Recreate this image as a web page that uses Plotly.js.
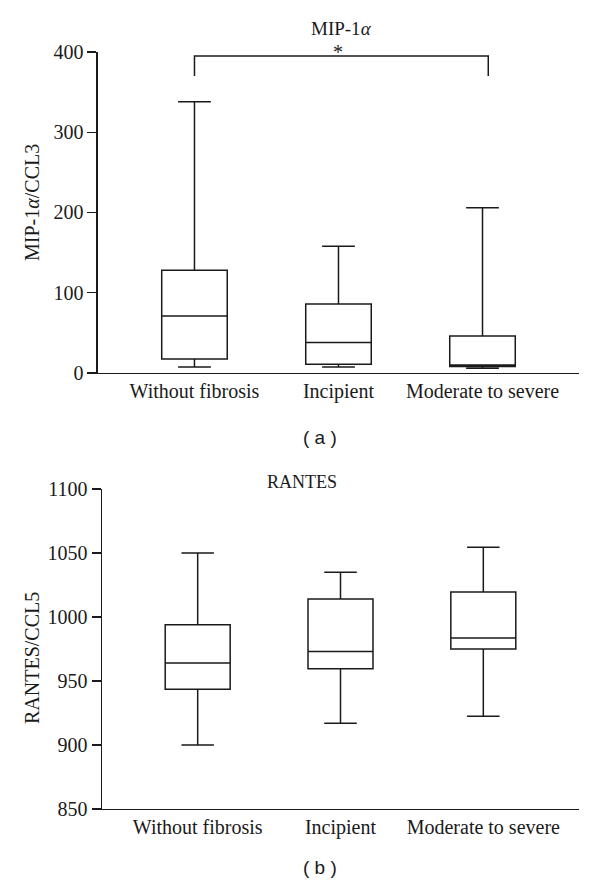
<!DOCTYPE html>
<html>
<head>
<meta charset="utf-8">
<script src="https://cdn.plot.ly/plotly-3.0.1.min.js"></script>
<style>
  body { margin: 0; background: #fff; }
  #chart { width: 600px; height: 888px; }
</style>
</head>
<body>
<div id="chart"></div>
<script>
// Box plots of chemokine levels by fibrosis stage

const groups = ['Without fibrosis', 'Incipient', 'Moderate to severe'];

// (a) MIP-1alpha / CCL3
const mipLower = [7.5, 7.5, 6];
const mipQ1 = [17.5, 11, 8];
const mipMedian = [71, 38, 10];
const mipQ3 = [128, 86, 46];
const mipUpper = [338, 158, 206];
const mipTicks = [0, 100, 200, 300, 400];

// (b) RANTES / CCL5
const ranLower = [900, 917, 922.5];
const ranQ1 = [943.5, 959.5, 975];
const ranMedian = [964, 973, 983.5];
const ranQ3 = [994, 1014, 1019.5];
const ranUpper = [1050, 1035, 1054.5];
const ranTicks = [850, 900, 950, 1000, 1050, 1100];

// significance bracket on panel (a): from group 0 to group 2
const bracketX = [0, 2.04];
const bracketTop = 395;
const bracketFoot = 370;

const ink = '#1a1a1a';
const serif = 'Liberation Serif, Times New Roman, serif';
const sans = 'Liberation Sans, Arial, sans-serif';

function boxTrace(lo, q1, med, q3, hi, xa, ya) {
    return {
        type: 'box',
        x: groups,
        lowerfence: lo,
        q1: q1,
        median: med,
        q3: q3,
        upperfence: hi,
        xaxis: xa,
        yaxis: ya,
        boxpoints: false,
        whiskerwidth: 0.5,
        fillcolor: 'rgba(0,0,0,0)',
        line: { color: ink, width: 1.5 },
        hoverinfo: 'skip'
    };
}

const traces = [
    boxTrace(mipLower, mipQ1, mipMedian, mipQ3, mipUpper, 'x', 'y'),
    boxTrace(ranLower, ranQ1, ranMedian, ranQ3, ranUpper, 'x2', 'y2')
];

const xBase = {
    type: 'category',
    range: [-0.67, 2.67],
    showline: true,
    linecolor: ink,
    linewidth: 1.5,
    ticks: '',
    showgrid: false,
    zeroline: false,
    tickfont: { family: serif, size: 20, color: ink },
    fixedrange: true
};

const yBase = {
    showline: true,
    linecolor: ink,
    linewidth: 1.5,
    ticks: 'outside',
    ticklen: 9,
    tickwidth: 1.5,
    tickcolor: ink,
    showgrid: false,
    zeroline: false,
    tickfont: { family: serif, size: 20, color: ink },
    fixedrange: true
};

// paper-coordinate text placed by pixel centre
function label(text, px, py, size, family, angle) {
    return {
        text: text, xref: 'paper', yref: 'paper',
        x: px / 600, y: 1 - py / 888,
        xanchor: 'center', yanchor: 'middle',
        textangle: angle || 0, showarrow: false,
        font: { family: family, size: size, color: ink }
    };
}

const layout = {
    width: 600,
    height: 888,
    margin: { l: 0, r: 0, t: 0, b: 0 },
    paper_bgcolor: '#fff',
    plot_bgcolor: '#fff',
    showlegend: false,
    boxmode: 'overlay',
    boxgap: 0.35,
    font: { family: serif, color: ink },
    xaxis: Object.assign({}, xBase, { domain: [0.1633, 0.965], anchor: 'y' }),
    yaxis: Object.assign({}, yBase, {
        domain: [0.58, 0.9414], anchor: 'x',
        range: [0, 400], tickvals: mipTicks
    }),
    xaxis2: Object.assign({}, xBase, { domain: [0.17, 0.965], anchor: 'y2' }),
    yaxis2: Object.assign({}, yBase, {
        domain: [0.089, 0.4493], anchor: 'x2',
        range: [850, 1100], tickvals: ranTicks
    }),
    shapes: [
        {
            type: 'path', xref: 'x', yref: 'y',
            path: 'M ' + bracketX[0] + ',' + bracketFoot +
                  ' L ' + bracketX[0] + ',' + bracketTop +
                  ' L ' + bracketX[1] + ',' + bracketTop +
                  ' L ' + bracketX[1] + ',' + bracketFoot,
            line: { color: ink, width: 1.5 }
        }
    ],
    annotations: [
        label('MIP-1<i>α</i>', 341, 29, 19, serif),
        {
            text: '*', xref: 'x', yref: 'paper', x: 1, y: 1 - 52 / 888,
            xanchor: 'center', yanchor: 'middle', showarrow: false,
            font: { family: serif, size: 20, color: ink }
        },
        label('MIP-1<i>α</i>/CCL3', 32, 203, 20, serif, -90),
        label('( a )', 320, 438, 19, sans),
        label('RANTES', 302, 482, 18, serif),
        label('RANTES/CCL5', 32, 658, 20, serif, -90),
        label('( b )', 320, 867, 19, sans)
    ]
};

Plotly.newPlot('chart', traces, layout, { displayModeBar: false, staticPlot: true });
</script>
</body>
</html>
